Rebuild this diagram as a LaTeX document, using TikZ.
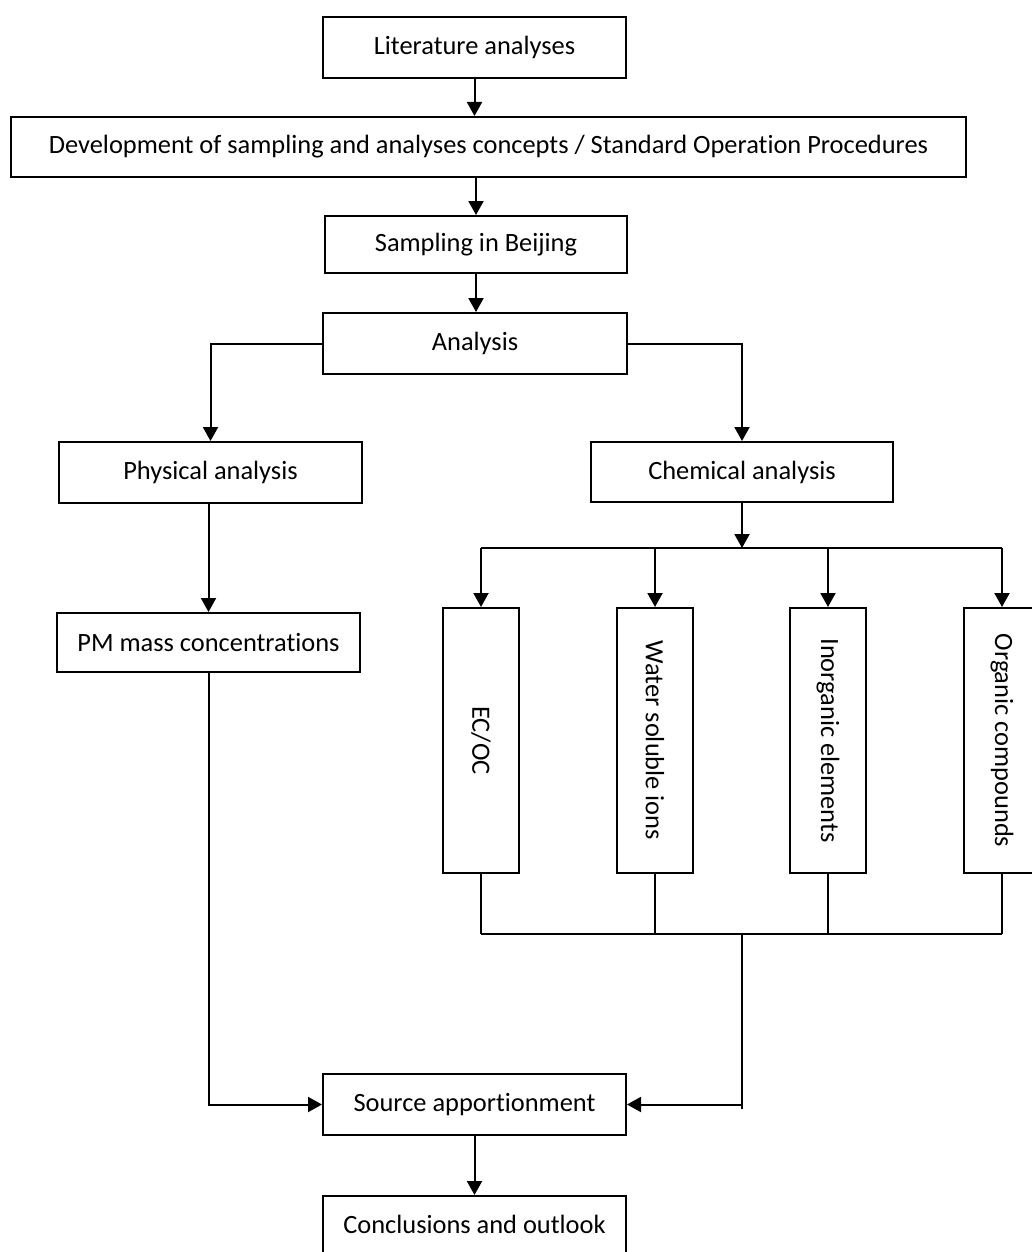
\documentclass[tikz,border=0pt]{standalone}
\usepackage{fontspec}
\setmainfont{Carlito}[Ligatures=NoCommon]
\usetikzlibrary{arrows.meta}

\begin{document}
\begin{tikzpicture}[
    x=0.5pt, y=-0.5pt,
    font=\fontsize{13.2}{16}\selectfont,
    box/.style 2 args={draw, line width=1pt, inner sep=0pt, minimum width=#1*0.5pt, minimum height=#2*0.5pt},
    flow/.style={line width=1pt, -{Triangle[length=7pt, width=7.5pt]}},
    link/.style={line width=1pt},
    vtext/.style={rotate=-90, inner sep=0pt},
]
\useasboundingbox (0,0) rectangle (1032,1252);

% --- Main chain ---
\node[box={303}{61}] (lit) at (474.5,47.5) {Literature analyses};
\node[box={955}{60}] (dev) at (488.5,147) {Development of sampling and analyses concepts / Standard Operation Procedures};
\node[box={302}{57}] (samp) at (476,244.5) {Sampling in Beijing};
\node[box={304}{61}] (ana) at (475,343.5) {Analysis};

% --- Physical / chemical branch ---
\node[box={303}{61}] (phys) at (210.5,472.5) {Physical analysis};
\node[box={302}{60}] (chem) at (742,472) {Chemical analysis};
\node[box={303}{59}] (pm) at (208.5,642.5) {PM mass concentrations};

% --- Chemical fractions (upright boxes, text turned) ---
\node[box={76}{265}] (ecoc) at (481,740.5) {};
\node[box={76}{265}] (water) at (655,740.5) {};
\node[box={76}{265}] (inorg) at (828,740.5) {};
\node[box={76}{265}] (org) at (1002,740.5) {};
\node[vtext] (ecoc-t) at (ecoc) {EC/OC};
\node[vtext] (water-t) at (water) {Water soluble ions};
\node[vtext] (inorg-t) at (inorg) {Inorganic elements};
\node[vtext] (org-t) at (org) {Organic compounds};

% --- End of the chain ---
\node[box={303}{61}] (src) at (474.5,1104.5) {Source apportionment};
\node[box={303}{57}] (concl) at (474.5,1224.5) {Conclusions and outlook};

% --- Connectors ---
\draw[flow] (lit.south) -- (lit.south |- dev.north);
\draw[flow] (samp.north |- dev.south) -- (samp.north);
\draw[flow] (samp.south) -- (samp.south |- ana.north);
\draw[flow] (ana.west) -| (phys.north);
\draw[flow] (ana.east) -| (chem.north);
\draw[flow] (phys.south -| pm.north) -- (pm.north);

\coordinate (splitT) at (742,548);
\coordinate (joinB) at (742,934);
\coordinate (joinE) at (742,1109);
\draw[flow] (chem.south) -- (splitT);
\draw[link] (ecoc.north |- splitT) -- (org.north |- splitT);
\foreach \n in {ecoc,water,inorg,org}{
  \draw[flow] (\n.north |- splitT) -- (\n.north);
  \draw[link] (\n.south) -- (\n.south |- joinB);
}
\draw[link] (ecoc.south |- joinB) -- (org.south |- joinB);
\draw[link] (joinB) -- (joinE);
\draw[flow] (joinB |- src.east) -- (src.east);
\draw[flow] (pm.south) |- (src.west);
\draw[flow] (src.south) -- (concl.north);

\end{tikzpicture}
\end{document}
